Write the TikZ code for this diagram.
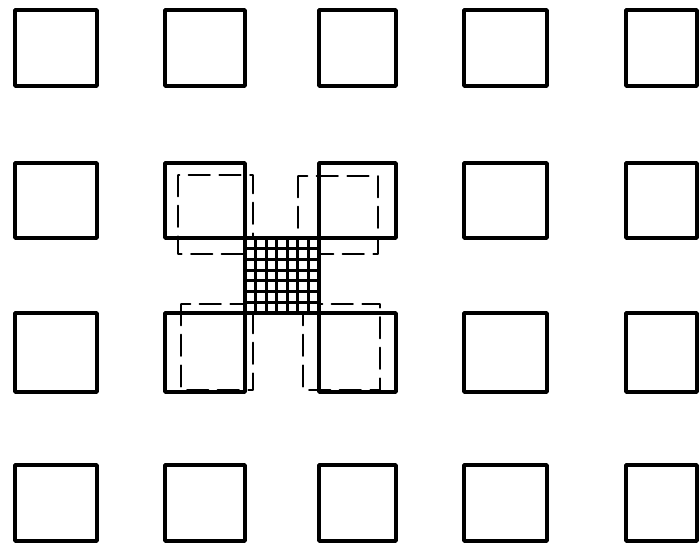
\documentclass[tikz,border=0pt]{standalone}
\begin{document}
\begin{tikzpicture}[x=0.75pt,y=-0.75pt,line join=round,line cap=round]
	\tikzset{pier/.style={line width=2.6pt},
		ghost/.style={line width=1.4pt,dash pattern=on 16pt off 7pt},
		mesh/.style={line width=2.1pt}
	}
	\useasboundingbox (0,0) rectangle (699,548);
	% the grid of squares
	\foreach \xa/\xb in {15/97,165/245,319/396,464/547,626/697}{
		\foreach \ya/\yb in {10/86,163/238,313/392,465/541}{
			\draw[pier] (\xa,\ya) rectangle (\xb,\yb);}}
	% shifted squares
	\draw[ghost] (178,175) rectangle (253,254);
	\draw[ghost] (298,176) rectangle (378,254);
	\draw[ghost] (181,304) rectangle (253,390);
	\draw[ghost] (303,304) rectangle (380,390);
	% meshed square in the middle
	\fill[white] (245,238) rectangle (319,313);
	\foreach \i in {1,...,6}{
		\draw[mesh] ({245+\i*74/7},238) -- ({245+\i*74/7},313);
		\draw[mesh] (245,{238+\i*75/7}) -- (319,{238+\i*75/7});}
	\draw[pier] (245,238) rectangle (319,313);
\end{tikzpicture}
\end{document}
